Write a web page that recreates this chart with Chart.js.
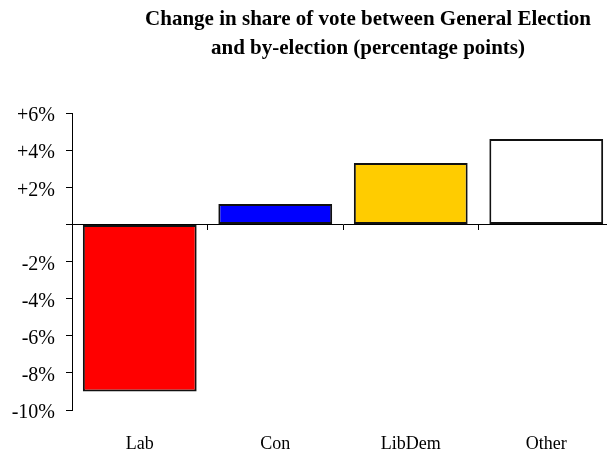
<!DOCTYPE html>
<html>
<head>
<meta charset="utf-8">
<script src="https://cdn.jsdelivr.net/npm/chart.js@4/dist/chart.umd.min.js"></script>
<style>
  html, body { margin: 0; padding: 0; background: #fff; overflow: hidden; }
  #grafica { display: block; }
</style>
</head>
<body>
<canvas id="grafica" width="615" height="452"></canvas>
<script>
const $grafica = document.querySelector("#grafica");

const categorias = ["Lab", "Con", "LibDem", "Other"];
const cambio = [-9.0, 1.1, 3.3, 4.6];
const colores = ["#ff0000", "#0000ff", "#ffcc00", "#ffffff"];
const tituloLineas = [
  "Change in share of vote between General Election",
  "and by-election (percentage points)",
];
const yMin = -10;
const yMax = 6;
const yPaso = 2;

// titulo centrado a mano, como en el original
const tituloPlugin = {
  id: "tituloPlugin",
  afterDraw(chart) {
    const ctx = chart.ctx;
    ctx.save();
    ctx.font = "bold 21px 'Liberation Serif'";
    ctx.fillStyle = "#000";
    ctx.textAlign = "center";
    ctx.textBaseline = "alphabetic";
    ctx.fillText(tituloLineas[0], 368, 25);
    ctx.fillText(tituloLineas[1], 368, 54);
    ctx.restore();
  },
};

new Chart($grafica, {
  type: "bar",
  data: {
    labels: categorias,
    datasets: [{
      data: cambio,
      backgroundColor: colores,
      borderColor: "#111",
      borderWidth: 2,
      borderSkipped: false,
      categoryPercentage: 1,
      barPercentage: 0.84,
    }],
  },
  options: {
    responsive: false,
    animation: false,
    layout: { padding: { top: 113, right: 1, left: 0, bottom: 0 } },
    scales: {
      x: {
        type: "category",
        position: { y: 0 },
        grid: { drawOnChartArea: false, tickLength: 5, color: "#000", offset: true },
        border: { color: "#000", width: 1 },
        ticks: { display: false },
      },
      x2: {
        type: "category",
        position: "bottom",
        labels: categorias,
        offset: true,
        grid: { display: false, drawTicks: false },
        border: { display: false },
        ticks: {
          padding: 23,
          color: "#000",
          font: { family: "'Liberation Serif'", size: 18 },
        },
        afterFit(scale) { scale.height = 42; },
      },
      y: {
        min: yMin,
        max: yMax,
        grid: { drawOnChartArea: false, tickLength: 6, color: "#000" },
        border: { color: "#000", width: 1 },
        ticks: {
          stepSize: yPaso,
          padding: 11,
          color: "#000",
          // linea vacia arriba para bajar la etiqueta unos px
          font: { family: "'Liberation Serif'", size: 20, lineHeight: 0.3 },
          callback: (v) => ["", v === 0 ? "" : v > 0 ? "+" + v + "%" : v + "%"],
        },
        afterFit(scale) { scale.width = 72; },
      },
    },
    plugins: {
      legend: { display: false },
      title: { display: false },
      tooltip: { enabled: false },
    },
  },
  plugins: [tituloPlugin],
});
</script>
</body>
</html>
